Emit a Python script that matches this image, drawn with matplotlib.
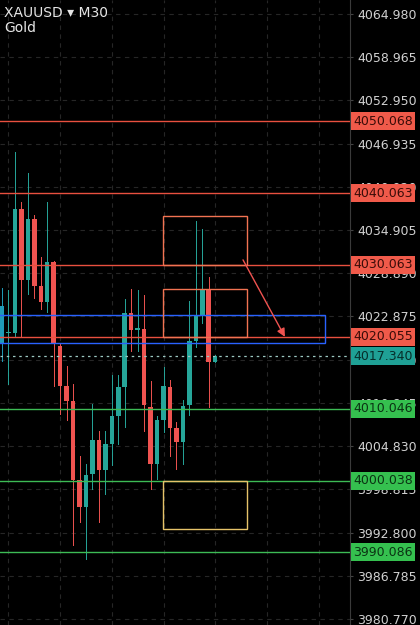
import matplotlib
matplotlib.use("Agg")
import matplotlib.pyplot as plt
from matplotlib.patches import Rectangle
import matplotlib.transforms as mtransforms

# candles (M30)
opens  = [4019.1, 4020.6, 4020.6, 4037.8, 4028.0, 4036.5, 4027.1, 4024.9, 4030.4, 4018.7,
          4013.2, 4011.1, 4000.1, 3996.4, 4000.9, 4005.7, 4001.5, 4005.1, 4009.0, 4013.0,
          4023.3, 4021.0, 4021.2, 4010.3, 4002.4, 4008.5, 4013.0, 4007.4, 4005.4, 4010.5,
          4019.5, 4022.9, 4026.6, 4016.6]
highs  = [4026.9, 4026.5, 4045.8, 4038.8, 4042.9, 4037.0, 4031.1, 4038.8, 4030.6, 4019.2,
          4016.0, 4013.5, 4003.4, 4002.4, 4010.7, 4007.0, 4007.0, 4014.7, 4014.7, 4025.3,
          4026.7, 4026.5, 4025.9, 4013.9, 4009.0, 4015.8, 4014.0, 4008.2, 4011.2, 4025.1,
          4036.2, 4035.0, 4028.4, 4017.5]
lows   = [4016.7, 4013.5, 4020.2, 4020.0, 4026.0, 4025.5, 4023.9, 4023.5, 4013.2, 4009.3,
          4008.5, 3991.1, 3994.3, 3989.1, 3998.9, 3994.3, 3998.2, 4002.2, 4005.1, 4007.5,
          4018.1, 4018.1, 4007.0, 3998.9, 4000.3, 4006.8, 4003.5, 4001.6, 4002.4, 4009.1,
          4018.6, 4021.9, 4010.3, 4016.5]
closes = [4024.3, 4020.7, 4037.8, 4028.0, 4036.5, 4027.1, 4024.9, 4030.4, 4019.1, 4013.2,
          4011.1, 4000.1, 3996.4, 4000.8, 4005.7, 4001.5, 4005.1, 4009.0, 4013.0, 4023.3,
          4021.0, 4021.3, 4010.5, 4002.4, 4008.4, 4013.2, 4007.4, 4005.4, 4010.4, 4019.4,
          4022.9, 4026.6, 4016.6, 4017.34]

tick_prices = [3980.770, 3986.785, 3992.800, 3998.815, 4004.830, 4010.845, 4016.860, 4022.875,
               4028.890, 4034.905, 4040.920, 4046.935, 4052.950, 4058.965, 4064.980]

red_levels = [4050.068, 4040.063, 4030.063, 4020.055]
green_levels = [4010.046, 4000.038, 3990.086]
last_price = 4017.340

BULL = '#26a69a'
BEAR = '#ef5350'
FS = 9.0

fig = plt.figure(figsize=(4.2, 6.25), dpi=100, facecolor='black')
ax = fig.add_axes([0, 0, 350 / 420, 1])
ax.set_facecolor('black')
ax.set_xlim(-0.31, 53.87)
ax.set_ylim(3979.93, 4066.93)

# grid
ax.set_yticks(tick_prices)
ax.set_yticklabels(['%.3f' % t for t in tick_prices])
ax.set_xticks([1, 9, 17, 25, 33, 41, 49])
ax.set_xticklabels([])
ax.grid(True, color='#262626', linestyle=(0, (4, 4)), linewidth=0.8)
ax.set_axisbelow(True)
ax.yaxis.tick_right()
ax.tick_params(axis='y', colors='#d0d0d0', labelsize=FS, length=2, pad=3)
ax.tick_params(axis='y', color='#444444')
ax.tick_params(axis='x', length=0)
for s in ['top', 'left', 'bottom']:
    ax.spines[s].set_visible(False)
ax.spines['right'].set_color('#3a3a3a')

# candles
for i in range(len(opens)):
    o, h, l, c = opens[i], highs[i], lows[i], closes[i]
    col = BULL if c >= o else BEAR
    if i == 0:
        col = '#1f9cb8'
    ax.plot([i, i], [l, h], color=col, linewidth=0.7, zorder=2)
    lo = min(o, c)
    ht = max(abs(c - o), 0.15)
    ax.add_patch(Rectangle((i - 0.35, lo), 0.7, ht, facecolor=col, edgecolor='none', zorder=3))

# levels
for p in red_levels:
    ax.axhline(p, color='#e8503f', linewidth=1, zorder=4)
for p in green_levels:
    ax.axhline(p, color='#3dbb55', linewidth=1, zorder=4)
ax.axhline(last_price, color='#9cc8c2', linewidth=0.9, linestyle=(0, (2, 3)), zorder=4)

# zones
ax.add_patch(Rectangle((-1, 4019.23), 51.0, 3.85, fill=False, edgecolor='#2962ff', linewidth=1, zorder=5))
ax.add_patch(Rectangle((24.9, 4030.063), 13.0, 6.8, fill=False, edgecolor='#f27352', linewidth=1, zorder=5))
ax.add_patch(Rectangle((24.9, 4020.055), 13.0, 6.7, fill=False, edgecolor='#f27352', linewidth=1, zorder=5))
ax.add_patch(Rectangle((24.9, 3993.3), 13.0, 6.74, fill=False, edgecolor='#e6c36a', linewidth=1, zorder=5))

ax.annotate('', xy=(44.0, 4019.7), xytext=(37.1, 4031.1),
            arrowprops=dict(arrowstyle='-|>', color='#ef5350', lw=1, mutation_scale=12), zorder=6)

# price labels on the axis
trans = mtransforms.blended_transform_factory(ax.transAxes, ax.transData)
def tag(p, fc, tc):
    ax.text(1.009, p, '%.3f' % p, transform=trans, ha='left', va='center', fontsize=FS,
            color=tc, clip_on=False, zorder=10,
            bbox=dict(boxstyle='square,pad=0.2', fc=fc, ec='none'))

for p in red_levels:
    tag(p, '#f05a4a', '#3a0c08')
for p in green_levels:
    tag(p, '#35c04f', '#0b3313')
tag(last_price, '#1fa095', '#062e2a')

fig.text(4 / 420, 1 - 13 / 625, 'XAUUSD \u25be M30', color='#e6e6e6', fontsize=10, va='center', ha='left')
fig.text(4 / 420, 1 - 28 / 625, 'Gold', color='#e6e6e6', fontsize=10, va='center', ha='left')

plt.savefig('out.png', dpi=100, facecolor='black')
